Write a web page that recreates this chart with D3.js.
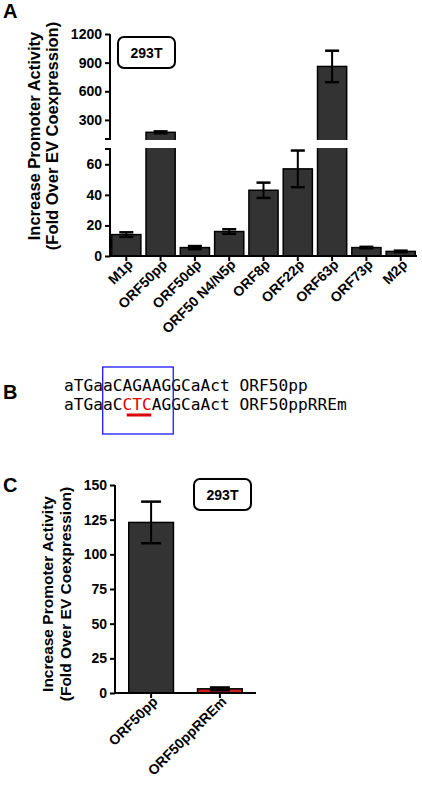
<!DOCTYPE html>
<html>
<head>
<style>
  body { margin: 0; background: #fff; }
</style>
</head>
<body>
<div id="chart"></div>
<script src="https://d3js.org/d3.v7.min.js"></script>
<script>
// panel A
var promoters = ['M1p', 'ORF50pp', 'ORF50dp', 'ORF50 N4/N5p', 'ORF8p', 'ORF22p', 'ORF63p', 'ORF73p', 'M2p'];
var activityA = [14, 170, 5.5, 16, 43, 57, 860, 5.5, 3];
var errorA = [1.5, 10, 1, 1.5, 5, 12, 165, 0.5, 0.5];
var lowTicks = [0, 20, 40, 60];
var highTicks = [300, 600, 900, 1200];
// panel C
var constructs = ['ORF50pp', 'ORF50ppRREm'];
var activityC = [123, 3];
var errorC = [15, 1];
var colorsC = ['#333333', '#cc1f1f'];
var ticksC = [0, 25, 50, 75, 100, 125, 150];

var sansFont = 'Arial, "Liberation Sans", sans-serif';
var svg = d3.select('#chart').append('svg').attr('width', 422).attr('height', 800)
  .style('font-family', sansFont).style('font-weight', 'bold');

function panelLetter(t, x, y) {
  svg.append('text').attr('x', x).attr('y', y).attr('font-size', 20).text(t);
}
function yLabel(cx, cy, size, gap) {
  var g = svg.append('text').attr('transform', 'translate(' + cx + ',' + cy + ') rotate(-90)')
    .attr('text-anchor', 'middle').attr('font-size', size);
  g.append('tspan').attr('x', 0).attr('dy', 0).text('Increase Promoter Activity');
  g.append('tspan').attr('x', 0).attr('dy', gap).text('(Fold Over EV Coexpression)');
}
function legendBox(x, y) {
  svg.append('rect').attr('x', x).attr('y', y).attr('width', 57).attr('height', 31)
    .attr('rx', 6).attr('fill', '#fff').attr('stroke', '#000').attr('stroke-width', 2);
  svg.append('text').attr('x', x + 28.5).attr('y', y + 21).attr('text-anchor', 'middle')
    .attr('font-size', 14).text('293T');
}
function styleAxis(a) {
  a.selectAll('path,line').attr('stroke', '#000').attr('stroke-width', 2);
  a.selectAll('text').attr('font-size', 14).attr('font-family', sansFont).attr('font-weight', 'bold').attr('fill', '#000');
}
function rotateLabels(a) {
  a.selectAll('text').attr('font-size', 14).attr('transform', 'translate(4,6) rotate(-45)')
    .attr('text-anchor', 'end').attr('dy', '0.35em').attr('y', 0);
}

// ---- A ----
panelLetter('A', 3, 18);
var axX = 110;
var x = d3.scaleBand().domain(promoters).range([axX, 417]).paddingInner(0.15).paddingOuter(0.05);
var yLow = d3.scaleLinear().domain([0, 70]).range([256, 149]);
var yHigh = d3.scaleLinear().domain([100, 1200]).range([139, 34]);

function yTop(v) { return v > 70 ? yHigh(v) : yLow(v); }

var bars = svg.append('g');
promoters.forEach(function(p, i) {
  var v = activityA[i];
  bars.append('rect').attr('x', x(p)).attr('width', x.bandwidth())
    .attr('y', yTop(v)).attr('height', yLow(0) - yTop(v))
    .attr('fill', '#333').attr('stroke', '#000').attr('stroke-width', 1.5);
  var cx = x(p) + x.bandwidth() / 2;
  var hi = yTop(v + errorA[i]), lo = yTop(v - errorA[i]);
  bars.append('line').attr('x1', cx).attr('x2', cx).attr('y1', hi).attr('y2', lo).attr('stroke', '#000').attr('stroke-width', 2);
  [hi, lo].forEach(function(yy) {
    bars.append('line').attr('x1', cx - 7).attr('x2', cx + 7).attr('y1', yy).attr('y2', yy).attr('stroke', '#000').attr('stroke-width', 2.5);
  });
});
// axis break gap
svg.append('rect').attr('x', axX - 2).attr('y', 140).attr('width', 310).attr('height', 8).attr('fill', '#fff');

var axL = svg.append('g').attr('transform', 'translate(' + axX + ',0)')
  .call(d3.axisLeft(yLow).tickValues(lowTicks).tickSize(5).tickFormat(d3.format('d')));
axL.select('.domain').attr('d', 'M-5,149H0V256');
var axH = svg.append('g').attr('transform', 'translate(' + axX + ',0)')
  .call(d3.axisLeft(yHigh).tickValues(highTicks).tickSize(5).tickFormat(d3.format('d')));
axH.select('.domain').attr('d', 'M-5,139H0V34');
var axB = svg.append('g').attr('transform', 'translate(0,256)')
  .call(d3.axisBottom(x).tickSize(5));
axB.select('.domain').attr('d', 'M' + axX + ',0H417');
[axL, axH, axB].forEach(styleAxis);
rotateLabels(axB);
yLabel(40, 136, 16.5, 18);
legendBox(118, 37);

// ---- B ----
panelLetter('B', 3, 399);
var mono = '"DejaVu Sans Mono", "Liberation Mono", monospace';
var cw = 9.8;
var sx = 64;
svg.append('text').attr('x', sx).attr('y', 391).style('font-family', mono).style('font-weight', 'normal').attr('font-size', 16.2).text('aTGaaCAGAAGGCaAct ORF50pp');
var t2 = svg.append('text').attr('x', sx).attr('y', 410).style('font-family', mono).style('font-weight', 'normal').attr('font-size', 16.2);
t2.append('tspan').text('aTGaaC');
t2.append('tspan').attr('fill', '#e00000').text('CTC');
t2.append('tspan').text('AGGCaAct ORF50ppRREm');
svg.append('rect').attr('x', sx + 4 * cw - 0.5).attr('y', 367).attr('width', 7.2 * cw).attr('height', 67)
  .attr('fill', 'none').attr('stroke', '#1a1aff').attr('stroke-width', 1.3);
svg.append('line').attr('x1', sx + 6.4 * cw).attr('x2', sx + 8.9 * cw).attr('y1', 415).attr('y2', 415)
  .attr('stroke', '#e00000').attr('stroke-width', 3);

// ---- C ----
panelLetter('C', 3, 492);
var cX = 115;
var xc = d3.scaleBand().domain(constructs).range([cX, 256]).paddingInner(0.35).paddingOuter(0.2);
var yc = d3.scaleLinear().domain([0, 150]).range([693, 485]);
constructs.forEach(function(c, i) {
  svg.append('rect').attr('x', xc(c)).attr('width', xc.bandwidth()).attr('y', yc(activityC[i]))
    .attr('height', yc(0) - yc(activityC[i])).attr('fill', colorsC[i]).attr('stroke', '#000').attr('stroke-width', 1.5);
  var cx = xc(c) + xc.bandwidth() / 2;
  var hi = yc(activityC[i] + errorC[i]), lo = yc(activityC[i] - errorC[i]);
  svg.append('line').attr('x1', cx).attr('x2', cx).attr('y1', hi).attr('y2', lo).attr('stroke', '#000').attr('stroke-width', 2);
  [hi, lo].forEach(function(yy) {
    svg.append('line').attr('x1', cx - 10).attr('x2', cx + 10).attr('y1', yy).attr('y2', yy).attr('stroke', '#000').attr('stroke-width', 2.5);
  });
});
var cL = svg.append('g').attr('transform', 'translate(' + cX + ',0)').call(d3.axisLeft(yc).tickValues(ticksC).tickSize(5));
cL.select('.domain').attr('d', 'M0,485V693');
var cB = svg.append('g').attr('transform', 'translate(0,693)').call(d3.axisBottom(xc).tickSize(5));
cB.select('.domain').attr('d', 'M' + cX + ',0H256');
[cL, cB].forEach(styleAxis);
rotateLabels(cB);
yLabel(53, 594, 15.5, 18);
legendBox(194, 479);
</script>
</body>
</html>
